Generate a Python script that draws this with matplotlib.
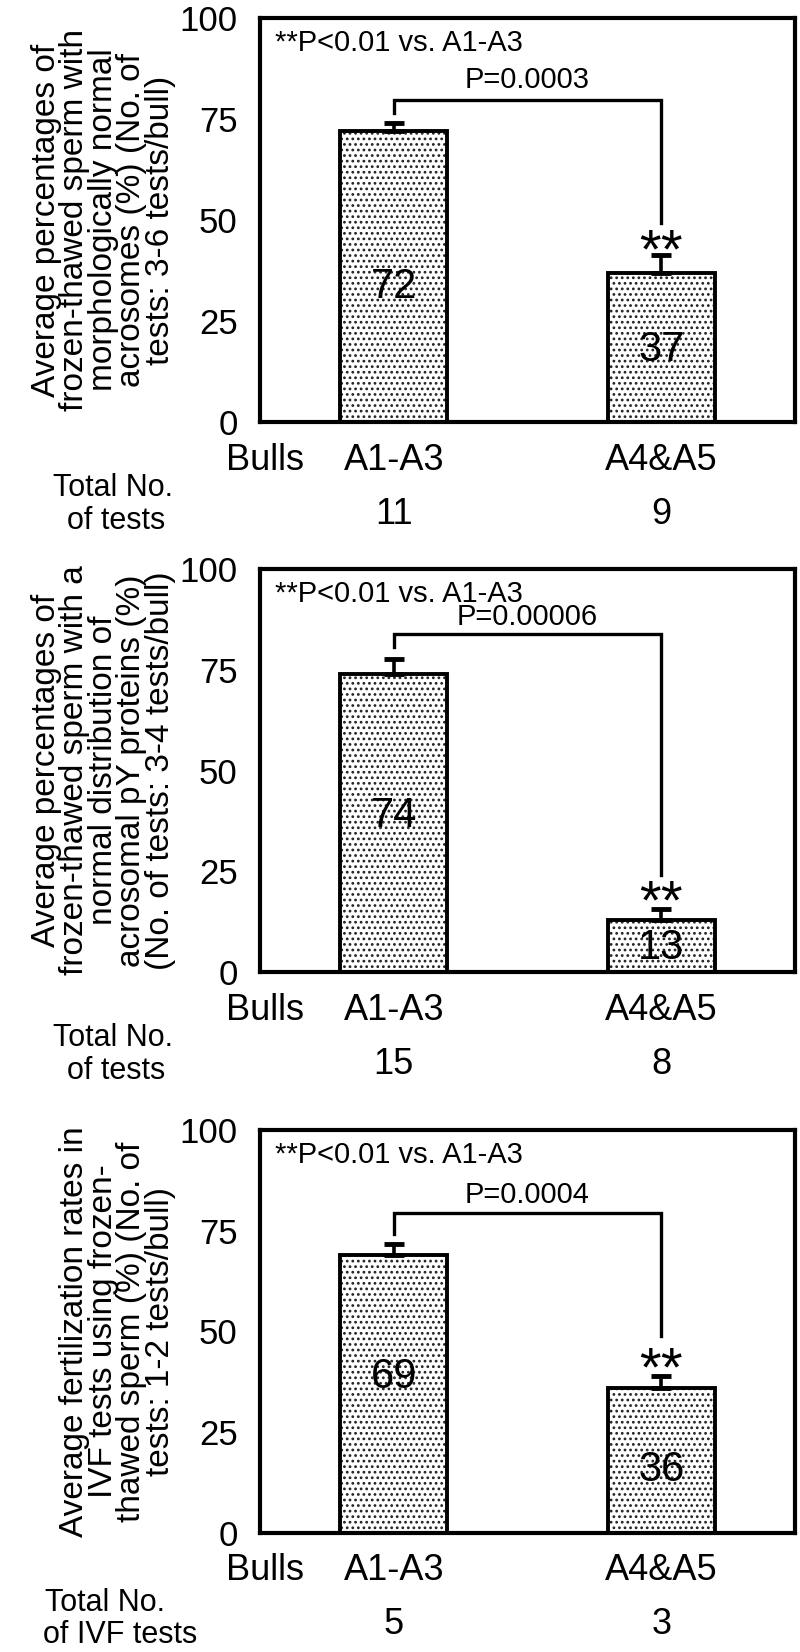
import matplotlib
matplotlib.use("Agg")
import matplotlib.pyplot as plt
from matplotlib import transforms

plt.rcParams['font.family'] = ['Liberation Sans', 'DejaVu Sans']
plt.rcParams['hatch.linewidth'] = 1.2

# ---------------- data ----------------
groups = ['A1-A3', 'A4&A5']

p1_means = [72, 37]
p1_err = [2.0, 4.3]
p1_tests = ['11', '9']
p1_pval = 'P=0.0003'

p2_means = [74, 13]
p2_err = [3.6, 2.7]
p2_tests = ['15', '8']
p2_pval = 'P=0.00006'

p3_means = [69, 36]
p3_err = [2.7, 3.0]
p3_tests = ['5', '3']
p3_pval = 'P=0.0004'

ylabels = [
    "Average percentages of\nfrozen-thawed sperm with\nmorphologically normal\nacrosomes (%) (No. of\ntests: 3-6 tests/bull)",
    "Average percentages of\nfrozen-thawed sperm with a\nnormal distribution of\nacrosomal pY proteins (%)\n(No. of tests: 3-4 tests/bull)",
    "Average fertilization rates in\nIVF tests using frozen-\nthawed sperm (%) (No. of\ntests: 1-2 tests/bull)",
]
total_labels = ["Total No.\nof tests", "Total No.\nof tests", "Total No.\nof IVF tests"]

# ---------------- layout ----------------
W, H = 800, 1652
fig = plt.figure(figsize=(W / 100, H / 100), dpi=100)

panels = [
    dict(top=18, bottom=422, means=p1_means, err=p1_err, tests=p1_tests, pval=p1_pval,
         bracket=(79.7, 76.5, 49.3), pval_y=84.7, star_y=45.5, lab_y=[33.4, 17.8], tot_align='center'),
    dict(top=569, bottom=972, means=p2_means, err=p2_err, tests=p2_tests, pval=p2_pval,
         bracket=(83.8, 80.6, 24.1), pval_y=88.0, star_y=20.6, lab_y=[38.6, 6.0], tot_align='center'),
    dict(top=1130, bottom=1533, means=p3_means, err=p3_err, tests=p3_tests, pval=p3_pval,
         bracket=(79.5, 74.3, 49.0), pval_y=83.9, star_y=43.8, lab_y=[38.6, 15.7], tot_align='left'),
]

AX_L, AX_R = 260, 795

def fx(x):
    return x / W

def fy(y):
    return 1 - y / H

xpos = [0, 1]
for i, p in enumerate(panels):
    ax = fig.add_axes([fx(AX_L), fy(p['bottom']), (AX_R - AX_L) / W, (p['bottom'] - p['top']) / H])
    ax.set_xlim(-0.5, 1.5)
    ax.set_ylim(0, 100)
    for s in ax.spines.values():
        s.set_linewidth(3.0)
    ax.set_yticks([0, 25, 50, 75, 100])
    ax.set_yticklabels(['0', '25', '50', '75', '100'])
    ax.tick_params(axis='y', length=0, pad=16, labelsize=25)
    ax.set_xticks([])

    # bars: hatched fill + outline
    ax.bar(xpos, p['means'], width=0.4, color='white', edgecolor='#222222',
           hatch='...', linewidth=0, zorder=2)
    ax.bar(xpos, p['means'], width=0.4, fill=False, edgecolor='black',
           linewidth=2.8, zorder=3)
    ax.errorbar(xpos, p['means'], yerr=[[0, 0], p['err']], fmt='none', ecolor='black',
                elinewidth=2.6, capsize=7, capthick=3.5, zorder=4)

    # bar value labels
    for x, m, ly in zip(xpos, p['means'], p['lab_y']):
        ax.text(x, ly, str(m), ha='center', va='center', fontsize=30, zorder=5)

    # bracket
    btop, bl, br = p['bracket']
    ax.plot([0, 0, 1, 1], [bl, btop, btop, br], color='black', lw=2.4,
            solid_joinstyle='miter', zorder=4)
    ax.text(0.5, p['pval_y'], p['pval'], ha='center', va='center', fontsize=21)
    ax.text(1, p['star_y'] - 7, r'$\mathregular{{*}{*}}$', ha='center', va='baseline', fontsize=40)
    ax.text(-0.444, 93.8, '**P<0.01 vs. A1-A3', ha='left', va='center', fontsize=21)

    # x labels below axis
    trans = transforms.blended_transform_factory(ax.transData, fig.transFigure)
    yb = p['bottom']
    for x, g in zip(xpos, groups):
        ax.text(x, fy(yb + 38), g, transform=trans, ha='center', va='center', fontsize=26)
    for x, t in zip(xpos, p['tests']):
        ax.text(x, fy(yb + 92), t, transform=trans, ha='center', va='center', fontsize=26)
    fig.text(fx(265), fy(yb + 38), 'Bulls', ha='center', va='center', fontsize=26)
    tl = total_labels[i].split('\n')
    if p['tot_align'] == 'center':
        fig.text(fx(113), fy(yb + 66), tl[0], ha='center', va='center', fontsize=22)
        fig.text(fx(116), fy(yb + 99), tl[1], ha='center', va='center', fontsize=22)
    else:
        fig.text(fx(45), fy(yb + 70), tl[0], ha='left', va='center', fontsize=22)
        fig.text(fx(43), fy(yb + 102), tl[1], ha='left', va='center', fontsize=22)

    # y label
    fig.text(fx(176), fy((p['top'] + p['bottom']) / 2), ylabels[i], rotation=90,
             ha='right', va='center', multialignment='center', fontsize=24,
             linespacing=0.9)

fig.savefig('out.png', dpi=100)
